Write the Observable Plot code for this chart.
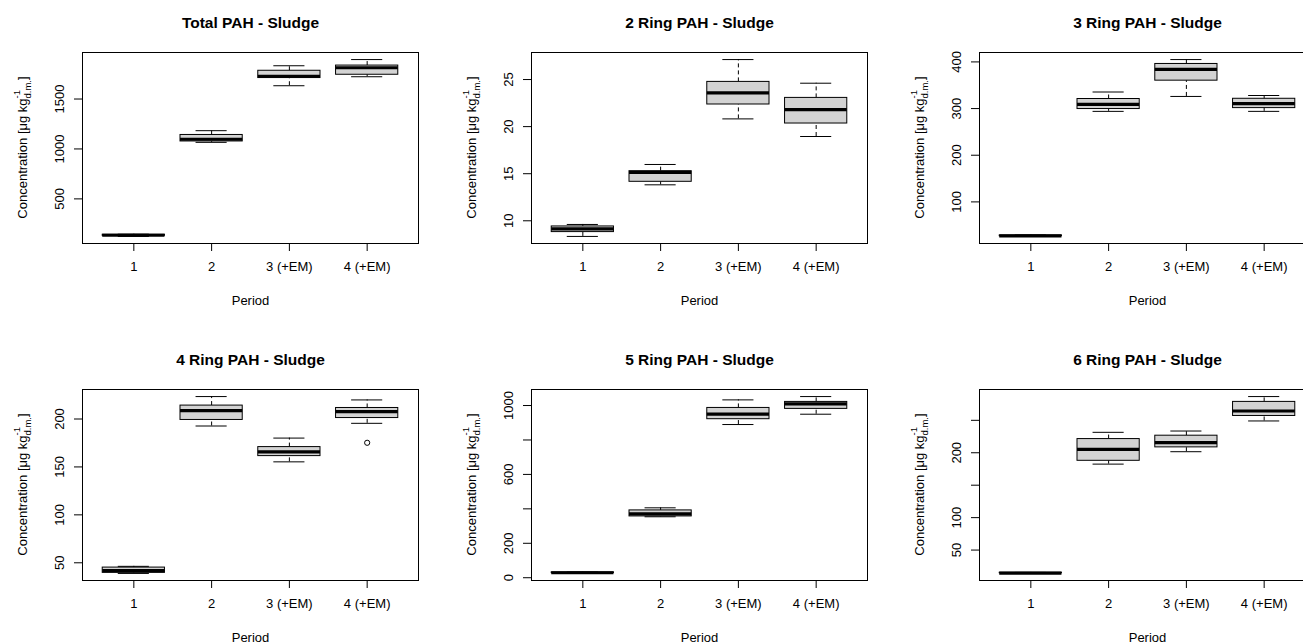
<!DOCTYPE html>
<html><head><meta charset="utf-8">
<script src="https://cdn.jsdelivr.net/npm/d3@7"></script>
<script src="https://cdn.jsdelivr.net/npm/@observablehq/plot@0.6"></script>
<style>
html,body{margin:0;padding:0;background:#fff;overflow:hidden;}
#fig{position:relative;width:1303px;height:644px;overflow:hidden;background:#fff;}
.panel{position:absolute;width:449px;}
.panel svg{max-width:none !important;display:block;}
</style></head><body><div id="fig"></div>
<script>
// Categories
const periods = ["1", "2", "3 (+EM)", "4 (+EM)"];
const titles = ["Total PAH - Sludge", "2 Ring PAH - Sludge", "3 Ring PAH - Sludge",
                "4 Ring PAH - Sludge", "5 Ring PAH - Sludge", "6 Ring PAH - Sludge"];

// Five-number summaries [min, q1, median, q3, max] per period
const totalPAH = [[124, 130, 136, 141, 146], [1066, 1075, 1097, 1140, 1183], [1633, 1710, 1728, 1783, 1833], [1723, 1743, 1813, 1835, 1895]];
const ring2PAH = [[8.34, 8.80, 9.15, 9.40, 9.61], [13.82, 14.14, 15.13, 15.27, 15.98], [20.82, 22.35, 23.58, 24.75, 27.12], [18.95, 20.33, 21.81, 23.05, 24.61]];
const ring3PAH = [[26, 26.5, 27, 28, 29], [294, 299, 309, 320.5, 335.5], [326, 359.8, 384, 395.6, 405], [294, 301, 310.5, 321, 328]];
const ring4PAH = [[38.9, 39.5, 41.8, 45, 46.3], [192.7, 199, 208.7, 214, 223.4], [155.3, 161.3, 165.8, 170.7, 180.1], [195.5, 201, 207.7, 211.5, 219.9]];
const ring5PAH = [[25, 27, 29, 31, 33], [354, 356, 371, 391, 406], [889.6, 920.6, 949.6, 986, 1032.8], [949.6, 980.5, 1010, 1021, 1052]];
const ring6PAH = [[14, 14.3, 14.6, 15, 15.5], [182.5, 187.6, 205.2, 221.1, 231.5], [201.6, 208.3, 215.5, 226.3, 233.5], [249, 256.7, 264.4, 278.4, 286.6]];

// Outliers [period index (1-based), value]
const ring4Outliers = [[4, 175.2]];

// Y tick marks and labelled ticks
const totalTicks = [500, 1000, 1500], totalLabels = [500, 1000, 1500];
const ring2Ticks = [10, 15, 20, 25], ring2Labels = [10, 15, 20, 25];
const ring3Ticks = [100, 200, 300, 400], ring3Labels = [100, 200, 300, 400];
const ring4Ticks = [50, 100, 150, 200], ring4Labels = [50, 100, 150, 200];
const ring5Ticks = [0, 200, 400, 600, 800, 1000], ring5Labels = [0, 200, 600, 1000];
const ring6Ticks = [50, 100, 150, 200, 250], ring6Labels = [50, 100, 200];

const panels = [
  {stats: totalPAH, ticks: totalTicks, labels: totalLabels, outliers: []},
  {stats: ring2PAH, ticks: ring2Ticks, labels: ring2Labels, outliers: []},
  {stats: ring3PAH, ticks: ring3Ticks, labels: ring3Labels, outliers: []},
  {stats: ring4PAH, ticks: ring4Ticks, labels: ring4Labels, outliers: ring4Outliers},
  {stats: ring5PAH, ticks: ring5Ticks, labels: ring5Labels, outliers: []},
  {stats: ring6PAH, ticks: ring6Ticks, labels: ring6Labels, outliers: []}
];

const FONT = "'Liberation Sans', Arial, Helvetica, sans-serif";
const fig = document.getElementById("fig");
const ML = 82, MT = 52, PH = 191, W = 449;

panels.forEach((p, i) => {
  const row = Math.floor(i / 3), col = i % 3;
  const H = row === 0 ? 320 : 307;
  const rows = p.stats.map((s, j) => ({period: j + 1, min: s[0], q1: s[1], median: s[2], q3: s[3], max: s[4]}));
  const outs = p.outliers.map(o => ({period: o[0], value: o[1]}));
  const all = p.stats.flat().concat(outs.map(o => o.value));
  const lo = d3.min(all), hi = d3.max(all), ext = 0.04 * (hi - lo);

  const svg = Plot.plot({
    width: W, height: H,
    marginLeft: ML, marginRight: 31, marginTop: MT, marginBottom: H - MT - PH,
    style: {fontFamily: FONT, fontSize: "13px", color: "black", background: "white", overflow: "visible", maxWidth: "none"},
    x: {type: "linear", domain: [0.34, 4.66]},
    y: {type: "linear", domain: [lo - ext, hi + ext]},
    marks: [
      Plot.ruleX(rows, {x: "period", y1: "min", y2: "q1", stroke: "black", strokeWidth: 1, strokeDasharray: "4,3"}),
      Plot.ruleX(rows, {x: "period", y1: "q3", y2: "max", stroke: "black", strokeWidth: 1, strokeDasharray: "4,3"}),
      Plot.ruleY(rows, {y: "min", x1: d => d.period - 0.2, x2: d => d.period + 0.2, stroke: "black", strokeWidth: 1}),
      Plot.ruleY(rows, {y: "max", x1: d => d.period - 0.2, x2: d => d.period + 0.2, stroke: "black", strokeWidth: 1}),
      Plot.rect(rows, {x1: d => d.period - 0.4, x2: d => d.period + 0.4, y1: "q1", y2: "q3", fill: "#d3d3d3", stroke: "black", strokeWidth: 1}),
      Plot.ruleY(rows, {y: "median", x1: d => d.period - 0.4, x2: d => d.period + 0.4, stroke: "black", strokeWidth: 3.2}),
      Plot.dot(outs, {x: "period", y: "value", r: 2.6, stroke: "black", fill: "none", strokeWidth: 1}),
      Plot.frame({stroke: "black", strokeWidth: 1}),
      Plot.axisX({ticks: [1, 2, 3, 4], tickFormat: d => periods[d - 1], tickSize: 8, tickPadding: 10, label: null, fontSize: 13}),
      Plot.axisY({ticks: p.ticks, tickSize: 8, tickFormat: () => "", label: null}),
      Plot.text(p.labels, {y: d => d, text: d => String(d), frameAnchor: "left", dx: -23, rotate: -90, textAnchor: "middle", lineAnchor: "middle", fontSize: 13}),
      Plot.text([titles[i]], {text: d => d, frameAnchor: "top", dy: -29, lineAnchor: "middle", fontWeight: "bold", fontSize: 15.5}),
      Plot.text(["Period"], {text: d => d, frameAnchor: "bottom", dy: 57, lineAnchor: "middle", fontSize: 13})
    ]
  });

  // Y axis label with superscript / subscript
  const t = d3.select(svg).append("text")
    .attr("transform", `translate(${ML - 55},${MT + PH / 2}) rotate(-90)`)
    .attr("text-anchor", "middle")
    .attr("font-family", FONT)
    .attr("font-size", 13)
    .attr("fill", "black");
  t.append("tspan").text("Concentration [\u03bcg kg");
  t.append("tspan").attr("font-size", 9.5).attr("dy", -7).text("-1");
  t.append("tspan").attr("font-size", 9.5).attr("dx", -8.5).attr("dy", 11).text("d.m.");
  t.append("tspan").attr("dy", -4).text("]");

  const div = document.createElement("div");
  div.className = "panel";
  div.style.left = (col * 448.5) + "px";
  div.style.top = (row * 337) + "px";
  div.appendChild(svg);
  fig.appendChild(div);
});
</script>
</body></html>
